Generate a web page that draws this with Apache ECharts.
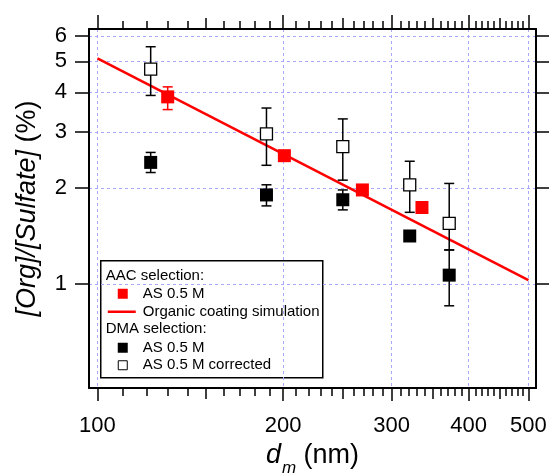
<!DOCTYPE html>
<html>
<head>
<meta charset="utf-8">
<script src="https://cdn.jsdelivr.net/npm/echarts@6/dist/echarts.min.js"></script>
<style>
html,body{margin:0;padding:0;background:#fff;}
#c{width:549px;height:473px;}
</style>
</head>
<body>
<div id="c"></div>
<script>
// ---- data ----
var xMajor = [100, 200, 300, 400, 500];
var xMedium = [150, 250, 350, 450];
var xMinor = [110, 120, 130, 140, 160, 170, 180, 190, 210, 220, 230, 240, 260, 270, 280, 290,
              310, 320, 330, 340, 360, 370, 380, 390, 410, 420, 430, 440, 460, 470, 480, 490];
var yMajor = [1, 2, 3, 4, 5, 6];

// AAC selection, AS 0.5 M
var aacX  = [130, 201, 269, 336];
var aacY  = [3.87, 2.53, 1.975, 1.74];
var aacLo = [3.53, null, null, null];
var aacHi = [4.16, null, null, null];

// DMA selection, AS 0.5 M
var dmaX  = [122, 188, 250, 321, 372];
var dmaY  = [2.41, 1.905, 1.84, 1.416, 1.067];
var dmaLo = [2.24, 1.76, 1.71, null, 0.855];
var dmaHi = [2.59, 2.05, 1.975, null, 1.28];

// DMA selection, AS 0.5 M corrected
var corX  = [122, 188, 250, 321, 372];
var corY  = [4.73, 2.96, 2.70, 2.05, 1.55];
var corLo = [3.91, 2.36, 2.12, 1.68, 1.28];
var corHi = [5.56, 3.57, 3.30, 2.43, 2.07];

// Organic coating simulation (straight line on log-log)
var simX = [100, 500];
var simY = [5.11, 1.03];

// ---- helpers ----
function pts(xs, ys) { return xs.map(function (x, i) { return [x, ys[i]]; }); }
function errs(xs, lo, hi) {
  var out = [];
  xs.forEach(function (x, i) { if (lo[i] != null && hi[i] != null) out.push([x, lo[i], hi[i]]); });
  return out;
}
function errSeries(data, color) {
  return {
    type: 'custom', xAxisIndex: 0, yAxisIndex: 0, z: 3, silent: true,
    encode: { x: 0, y: [1, 2] },
    data: data,
    renderItem: function (params, api) {
      var x = api.value(0);
      var p1 = api.coord([x, api.value(1)]);
      var p2 = api.coord([x, api.value(2)]);
      var w = 5;
      var st = { stroke: color, lineWidth: 1.5 };
      return { type: 'group', children: [
        { type: 'line', shape: { x1: p1[0], y1: p1[1], x2: p2[0], y2: p2[1] }, style: st },
        { type: 'line', shape: { x1: p1[0] - w, y1: p1[1], x2: p1[0] + w, y2: p1[1] }, style: st },
        { type: 'line', shape: { x1: p2[0] - w, y1: p2[1], x2: p2[0] + w, y2: p2[1] }, style: st }
      ]};
    }
  };
}

var FONT = "'Liberation Sans', Arial, sans-serif";
var XMIN = 96.9, XMAX = 514.4, YMIN = 0.472, YMAX = 6.32;
var gridLine = { show: true, lineStyle: { color: '#a8a8ff', width: 1, type: [3, 3] } };

function xAx(pos, vals, len, opts) {
  var a = {
    type: 'log', logBase: 10, gridIndex: 0, position: pos, min: XMIN, max: XMAX,
    axisLine: { show: false },
    axisTick: { show: true, customValues: vals, length: len, inside: false, lineStyle: { color: '#000', width: 1.5 } },
    axisLabel: { show: false },
    splitLine: { show: false }
  };
  return Object.assign(a, opts || {});
}

var option = {
  animation: false,
  backgroundColor: '#fff',
  grid: { left: 89, right: 13, top: 29, bottom: 85, containLabel: false, outerBoundsMode: 'none' },
  xAxis: [
    xAx('bottom', xMajor, 13, {
      axisLine: { show: true, onZero: false, lineStyle: { color: '#000', width: 2 } },
      axisLabel: { show: true, customValues: xMajor, fontSize: 22, color: '#000', fontFamily: FONT, margin: 27 },
      splitLine: gridLine,
      name: '{i|d}{s|m}{n| (nm)}', nameLocation: 'middle', nameGap: 52,
      nameTextStyle: { fontFamily: FONT, color: '#000',
        rich: {
          i: { fontSize: 27, fontStyle: 'italic', fontFamily: FONT, color: '#000', lineHeight: 30 },
          s: { fontSize: 17, fontStyle: 'italic', fontFamily: FONT, color: '#000', verticalAlign: 'bottom', lineHeight: 20, padding: [0, 0, -6, 1] },
          n: { fontSize: 27, fontFamily: FONT, color: '#000', lineHeight: 30 }
        } }
    }),
    xAx('bottom', xMedium, 11),
    xAx('bottom', xMinor, 8),
    xAx('top', xMajor, 14, { axisLine: { show: true, onZero: false, lineStyle: { color: '#000', width: 2 } } }),
    xAx('top', xMedium, 11),
    xAx('top', xMinor, 8)
  ],
  yAxis: [
    {
      type: 'log', logBase: 10, gridIndex: 0, position: 'left', min: YMIN, max: YMAX,
      axisLine: { show: true, onZero: false, lineStyle: { color: '#000', width: 2 } },
      axisTick: { show: true, customValues: yMajor, length: 14, lineStyle: { color: '#000', width: 1.5 } },
      axisLabel: { show: true, customValues: yMajor, fontSize: 22, color: '#000', fontFamily: FONT, margin: 22 },
      splitLine: gridLine,
      name: '{i|[Org]/[Sulfate]}{n| (%)}', nameLocation: 'middle', nameGap: 48, nameRotate: 90,
      nameTextStyle: { fontFamily: FONT, color: '#000',
        rich: {
          i: { fontSize: 27, fontStyle: 'italic', fontFamily: FONT, color: '#000' },
          n: { fontSize: 27, fontFamily: FONT, color: '#000' }
        } }
    },
    {
      type: 'log', logBase: 10, gridIndex: 0, position: 'right', min: YMIN, max: YMAX,
      axisLine: { show: true, onZero: false, lineStyle: { color: '#000', width: 2 } },
      axisTick: { show: true, customValues: yMajor, length: 13, lineStyle: { color: '#000', width: 1.5 } },
      axisLabel: { show: false },
      splitLine: { show: false }
    }
  ],
  series: [
    {
      name: 'Organic coating simulation', type: 'line', xAxisIndex: 0, yAxisIndex: 0, z: 2,
      data: pts(simX, simY), showSymbol: false, symbol: 'none',
      lineStyle: { color: '#ff0000', width: 2.5 }
    },
    errSeries(errs(dmaX, dmaLo, dmaHi), '#000'),
    errSeries(errs(corX, corLo, corHi), '#000'),
    errSeries(errs(aacX, aacLo, aacHi), '#ff0000'),
    {
      name: 'DMA AS 0.5 M', type: 'scatter', xAxisIndex: 0, yAxisIndex: 0, z: 4,
      data: pts(dmaX, dmaY), symbol: 'rect', symbolSize: 13,
      itemStyle: { color: '#000', opacity: 1 }
    },
    {
      name: 'DMA AS 0.5 M corrected', type: 'scatter', xAxisIndex: 0, yAxisIndex: 0, z: 4,
      data: pts(corX, corY), symbol: 'rect', symbolSize: 12,
      itemStyle: { color: '#fff', borderColor: '#000', borderWidth: 1.3, opacity: 1 }
    },
    {
      name: 'AAC AS 0.5 M', type: 'scatter', xAxisIndex: 0, yAxisIndex: 0, z: 5,
      data: pts(aacX, aacY), symbol: 'rect', symbolSize: 13,
      itemStyle: { color: '#ff0000', opacity: 1 }
    }
  ],
  graphic: [
    { type: 'group', left: 100, top: 260, z: 100, children: [
      { type: 'rect', shape: { x: 0, y: 0, width: 222, height: 117 }, style: { fill: '#fff', stroke: '#000', lineWidth: 1.5 } },
      { type: 'text', x: 5, y: 15, style: { text: 'AAC selection:', font: '15px ' + FONT, fill: '#000', verticalAlign: 'middle' } },
      { type: 'rect', shape: { x: 17, y: 28, width: 10, height: 10 }, style: { fill: '#ff0000' } },
      { type: 'text', x: 42, y: 33, style: { text: 'AS 0.5 M', font: '15px ' + FONT, fill: '#000', verticalAlign: 'middle' } },
      { type: 'line', shape: { x1: 7, y1: 51, x2: 35, y2: 51 }, style: { stroke: '#ff0000', lineWidth: 2.5 } },
      { type: 'text', x: 42, y: 51, style: { text: 'Organic coating simulation', font: '15px ' + FONT, fill: '#000', verticalAlign: 'middle' } },
      { type: 'text', x: 5, y: 68, style: { text: 'DMA selection:', font: '15px ' + FONT, fill: '#000', verticalAlign: 'middle' } },
      { type: 'rect', shape: { x: 17, y: 82, width: 10, height: 10 }, style: { fill: '#000' } },
      { type: 'text', x: 42, y: 87, style: { text: 'AS 0.5 M', font: '15px ' + FONT, fill: '#000', verticalAlign: 'middle' } },
      { type: 'rect', shape: { x: 17.5, y: 100, width: 9, height: 9 }, style: { fill: '#fff', stroke: '#000', lineWidth: 1 } },
      { type: 'text', x: 42, y: 104, style: { text: 'AS 0.5 M corrected', font: '15px ' + FONT, fill: '#000', verticalAlign: 'middle' } }
    ]}
  ]
};

var chart = echarts.init(document.getElementById('c'), null, { renderer: 'canvas' });
chart.setOption(option);
</script>
</body>
</html>
